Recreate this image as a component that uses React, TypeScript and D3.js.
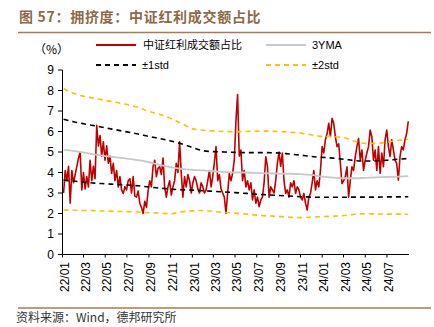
import React from "react";
import * as d3 from "d3";

// ---- data ----
const redValues: number[] = [
  // 22/01 - 22/02
  3.0, 4.1, 3.6, 4.3, 2.5, 4.1, 3.5, 3.9, 4.3, 4.7, 5.0,
  3.15, 4.0, 3.2, 3.8, 3.3, 4.6, 3.6, 4.3, 3.7,
  // 22/04 spike and decline
  6.3, 5.3, 5.8, 4.8, 5.5, 4.6, 5.3, 4.45, 4.8, 3.96, 4.45, 3.6, 4.1, 3.3, 3.8, 3.15, 2.98, 3.3, 3.15, 3.6, 3.7, 3.0, 3.8, 2.85,
  // 22/08 lows
  2.8, 3.1, 2.5, 2.3, 2.0, 2.6, 2.3, 3.1, 3.6,
  // 22/09 - 23/02
  3.3, 4.3, 4.6, 3.8, 4.2, 4.28, 3.9, 4.7, 3.3, 2.8, 3.3, 3.6, 2.9, 3.3, 3.6, 4.45, 4.0, 5.5, 3.96, 2.8, 3.8, 3.3, 3.9, 3.6, 3.0, 3.5, 3.8, 3.6, 3.2, 3.0, 3.5, 3.3, 3.0,
  // 23/02 - 23/08
  3.15, 3.6, 4.1, 3.3, 3.8, 4.5, 5.26, 3.6, 3.9, 3.2, 3.0, 2.8, 2.0, 3.0, 3.96, 3.6, 3.96, 4.6, 6.5, 7.8, 4.8, 5.1, 3.6, 4.1, 3.3, 3.6, 3.15, 3.5, 2.66, 3.15, 2.5, 2.8, 2.33, 2.66, 2.8, 3.5, 4.77, 4.3, 2.8, 3.3, 3.15, 3.0,
  // 23/08 - 24/03
  3.6, 4.45, 5.0, 4.3, 4.95, 3.6, 2.98, 3.15, 2.8, 3.5, 3.3, 3.6, 2.98, 3.3, 3.15, 2.8, 2.66, 2.98, 2.5, 2.17, 2.8, 2.98, 3.5, 4.1, 3.15, 3.6, 3.3, 4.1, 5.26, 4.95, 5.6, 5.9, 6.4, 5.75, 6.64, 6.4, 5.75, 5.26, 5.4, 4.45, 3.46, 3.6,
  // 24/03 - 24/08
  3.8, 4.28, 2.8, 3.6, 4.28, 4.1, 4.77, 5.26, 5.66, 4.6, 5.1, 4.1, 4.6, 4.95, 5.26, 6.07, 5.75, 4.6, 5.1, 4.1, 5.26, 3.96, 4.95, 4.28, 5.6, 6.07, 5.26, 4.77, 5.6, 5.1, 4.6, 4.45, 3.63, 4.77, 5.26, 5.1, 5.6, 5.9, 6.5,
];

// monthly band values (month starts 22/01 .. 24/08, then last trading day)
const maValues = [5.12, 5.06, 4.98, 4.88, 4.8, 4.74, 4.68, 4.6, 4.5, 4.37, 4.26, 4.18, 4.13, 4.1, 4.06, 4.03, 4.0, 4.0, 3.98, 3.96, 3.95, 3.94, 3.92, 3.88, 3.8, 3.75, 3.72, 3.72, 3.74, 3.76, 3.78, 3.8, 3.82];
const up1Values = [6.6, 6.48, 6.38, 6.28, 6.18, 6.08, 5.98, 5.88, 5.76, 5.66, 5.54, 5.4, 5.22, 5.06, 5.02, 5.0, 4.98, 4.97, 4.97, 4.97, 4.95, 4.9, 4.85, 4.78, 4.74, 4.7, 4.65, 4.58, 4.56, 4.57, 4.6, 4.65, 4.68];
const lo1Values = [3.63, 3.58, 3.53, 3.48, 3.45, 3.42, 3.39, 3.35, 3.29, 3.24, 3.19, 3.16, 3.14, 3.11, 3.08, 3.05, 3.02, 2.98, 2.94, 2.91, 2.88, 2.85, 2.82, 2.8, 2.79, 2.79, 2.79, 2.8, 2.8, 2.8, 2.81, 2.81, 2.82];
const up2Values = [8.1, 7.86, 7.72, 7.62, 7.52, 7.42, 7.32, 7.18, 6.98, 6.84, 6.64, 6.4, 6.14, 6.06, 6.03, 6.0, 5.99, 6.0, 6.02, 6.02, 6.0, 5.97, 5.92, 5.84, 5.76, 5.75, 5.7, 5.52, 5.42, 5.42, 5.48, 5.56, 5.62];
const lo2Values = [2.17, 2.16, 2.15, 2.14, 2.12, 2.1, 2.09, 2.07, 2.04, 2.02, 1.99, 2.08, 2.13, 2.15, 2.1, 2.05, 2.02, 1.97, 1.92, 1.88, 1.86, 1.82, 1.8, 1.82, 1.85, 1.87, 1.9, 1.96, 1.99, 1.98, 1.97, 1.97, 1.96];

const yTicks = [0, 1, 2, 3, 4, 5, 6, 7, 8, 9];
const titleText = "图 57：拥挤度：中证红利成交额占比";
const sourceText = "资料来源：Wind，德邦研究所";
const legendItems = [
  { label: "中证红利成交额占比", color: "#C00000", dash: "", cjk: true },
  { label: "3YMA", color: "#C8C8C8", dash: "", cjk: false },
  { label: "±1std", color: "#000000", dash: "5,4", cjk: false },
  { label: "±2std", color: "#FFC000", dash: "5,4", cjk: false },
];

const dataStart = new Date(2022, 0, 4);
const dataEnd = new Date(2024, 7, 30);

export default function App() {
  const W = 434, H = 327;
  const x = d3.scaleTime().domain([new Date(2022, 0, 1), new Date(2024, 8, 1)]).range([62.5, 409]);
  const y = d3.scaleLinear().domain([0, 9]).range([254.5, 70]);

  const step = (dataEnd.getTime() - dataStart.getTime()) / (redValues.length - 1);
  const redPts: [Date, number][] = redValues.map((v, i) => [new Date(dataStart.getTime() + i * step), v]);

  const bandDates: Date[] = d3.timeMonth.range(new Date(2022, 0, 1), new Date(2024, 8, 1));
  bandDates[0] = dataStart;
  bandDates.push(dataEnd);
  const mk = (vals: number[]) => vals.map((v, i) => [bandDates[i], v] as [Date, number]);

  const line = d3.line<[Date, number]>().x((d) => x(d[0])).y((d) => y(d[1]));
  const smooth = d3.line<[Date, number]>().x((d) => x(d[0])).y((d) => y(d[1])).curve(d3.curveMonotoneX);

  const xTicks = d3.timeMonth.range(new Date(2022, 0, 1), new Date(2024, 7, 2), 2);
  const fmt = d3.timeFormat("%y/%m");

  const num = "'Liberation Sans', Arial, sans-serif";
  const cjk = "'Noto Sans CJK SC', 'Liberation Sans', sans-serif";

  return (
    <svg width={W} height={H} style={{ position: "absolute", left: 0, top: 0 }}>
      <rect width={W} height={H} fill="#fff" />
      <text x={19} y={22} fontFamily={cjk} fontSize={14} fontWeight="bold" fill="#8C6A47" letterSpacing={0.7}>{titleText}</text>
      <line x1={18} x2={431} y1={32.5} y2={32.5} stroke="#A67C52" strokeWidth={1.5} />

      {/* legend */}
      <text x={34} y={54} fontFamily={cjk} fontSize={12} fill="#000">（%）</text>
      {legendItems.map((it, i) => {
        const col = i % 2;
        const row = Math.floor(i / 2);
        const lx = col === 0 ? 96 : 266;
        const ly = row === 0 ? 45 : 65;
        return (
          <g key={it.label}>
            <line x1={lx} x2={lx + 40} y1={ly} y2={ly} stroke={it.color} strokeWidth={2} strokeDasharray={it.dash || undefined} />
            <text x={lx + (it.cjk ? 47 : 46)} y={ly + 4} fontFamily={it.cjk ? cjk : num} fontSize={11} fill="#000">{it.label}</text>
          </g>
        );
      })}

      {/* series */}
      <path d={line(redPts) || ""} fill="none" stroke="#C00000" strokeWidth={1.6} strokeLinejoin="round" />
      <path d={smooth(mk(maValues)) || ""} fill="none" stroke="#C8C8C8" strokeWidth={1.8} />
      <path d={smooth(mk(up1Values)) || ""} fill="none" stroke="#000" strokeWidth={1.6} strokeDasharray="5,4" />
      <path d={smooth(mk(lo1Values)) || ""} fill="none" stroke="#000" strokeWidth={1.6} strokeDasharray="5,4" />
      <path d={smooth(mk(up2Values)) || ""} fill="none" stroke="#FFC000" strokeWidth={1.6} strokeDasharray="5,4" />
      <path d={smooth(mk(lo2Values)) || ""} fill="none" stroke="#FFC000" strokeWidth={1.6} strokeDasharray="5,4" />

      {/* y axis */}
      <line x1={62.5} x2={62.5} y1={y(9)} y2={y(0)} stroke="#000" strokeWidth={1} />
      {yTicks.map((t) => (
        <g key={t}>
          <line x1={58} x2={62.5} y1={y(t)} y2={y(t)} stroke="#000" />
          <text x={54} y={y(t)} dy="0.36em" textAnchor="end" fontFamily={num} fontSize={12} fill="#000">{t}</text>
        </g>
      ))}

      {/* x axis */}
      <line x1={62.5} x2={409} y1={y(0)} y2={y(0)} stroke="#000" strokeWidth={1} />
      {xTicks.map((d) => (
        <g key={d.getTime()}>
          <line x1={x(d)} x2={x(d)} y1={y(0)} y2={y(0) + 3} stroke="#000" />
          <text transform={`translate(${x(d) + 6.2},262) rotate(-90)`} textAnchor="end" fontFamily={num} fontSize={12} fill="#000">{fmt(d)}</text>
        </g>
      ))}

      <line x1={18} x2={431} y1={308} y2={308} stroke="#A67C52" strokeWidth={1.5} />
      <text x={16} y={322} fontFamily={cjk} fontSize={12} fill="#333">{sourceText}</text>
    </svg>
  );
}
